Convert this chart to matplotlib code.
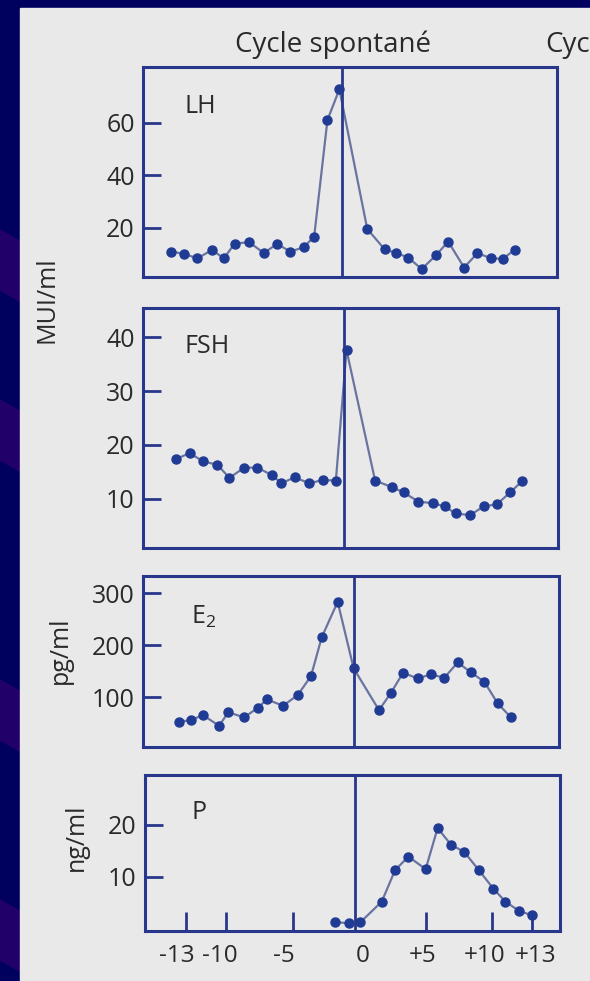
import matplotlib.pyplot as plt
from matplotlib.patches import Rectangle, Polygon

plt.rcParams['font.family'] = ['Open Sans', 'DejaVu Sans']

# valeurs (jours autour du pic de LH)
lh_days = [-14.0, -13.0, -12.0, -10.9, -10.0, -9.2, -8.1, -7.0, -6.0, -5.0, -4.0, -3.2, -2.2, -1.3,
           0.8, 2.1, 3.0, 3.9, 4.9, 6.0, 6.9, 8.1, 9.1, 10.1, 11.0, 11.9]
lh_vals = [11.0, 10.1, 8.4, 11.6, 8.4, 14.0, 14.6, 10.4, 13.9, 11.0, 12.6, 16.7, 61.1, 72.8,
           19.6, 11.9, 10.4, 8.7, 4.3, 9.7, 14.8, 4.9, 10.4, 8.5, 8.2, 11.6]

fsh_days = [-13.6, -12.6, -11.6, -10.5, -9.6, -8.5, -7.5, -6.4, -5.7, -4.7, -3.6, -2.6, -1.6, -0.8,
            1.35, 2.6, 3.5, 4.6, 5.7, 6.6, 7.4, 8.5, 9.5, 10.5, 11.5, 12.4]
fsh_vals = [17.4, 18.5, 17.0, 16.3, 13.9, 15.8, 15.8, 14.4, 12.9, 14.0, 12.9, 13.5, 13.4, 37.6,
            13.4, 12.2, 11.2, 9.5, 9.2, 8.6, 7.3, 7.0, 8.6, 9.0, 11.2, 13.3]

e2_days = [-13.4, -12.5, -11.6, -10.4, -9.7, -8.5, -7.5, -6.8, -5.6, -4.5, -3.5, -2.7, -1.5, -0.3,
           1.6, 2.5, 3.4, 4.5, 5.5, 6.5, 7.5, 8.5, 9.5, 10.5, 11.5]
e2_vals = [52.5, 55.8, 65.4, 44.8, 70.6, 61, 79.4, 95.6, 83.3, 103.8, 140.4, 214.8, 283.3, 155.2,
           75, 108.3, 146.7, 136, 143.7, 137.1, 166.7, 147.5, 129.4, 87.9, 61]

p_days = [-1.8, -0.8, 0.1, 1.7, 2.7, 3.7, 5.0, 5.9, 6.9, 7.9, 9.0, 10.1, 11.0, 12.0, 13.0]
p_vals = [1.3, 1.1, 1.3, 5.25, 11.3, 13.9, 11.5, 19.4, 16.2, 14.8, 11.3, 7.7, 5.25, 3.5, 2.6]

x_marks = [-13, -10, -5, 5, 10, 13]
x_labels = ['-13', '-10', '-5', '0', '+5', '+10', '+13']
# centres des étiquettes, un peu décalés comme sur l'original
x_label_pos = [-13.7, -10.5, -5.7, 0.3, 4.8, 9.4, 13.3]

page = '#e9e9e9'
frame = '#28378c'
dot = '#1f3b94'
line = '#6a74a0'
txt = '#2a2a2a'

W, H = 590, 981
fig = plt.figure(figsize=(W / 100, H / 100), dpi=100)
fig.patch.set_facecolor('#00005e')

# bandes violettes du fond de la diapo
for y0 in [230, 400, 680, 900]:
    fig.patches.append(Polygon([(0, 1 - y0 / H), (0, 1 - (y0 + 60) / H),
                                (0.3, 1 - (y0 + 160) / H), (0.3, 1 - (y0 + 100) / H)],
                               closed=True, transform=fig.transFigure,
                               color='#22006a', zorder=-3))
fig.patches.append(Rectangle((20 / W, 0), 1, 1 - 8 / H, transform=fig.transFigure,
                             color=page, zorder=-2))


def panel(box, days, vals, ylim, yticks, vline, label, lpos):
    l, t, r, b = box
    ax = fig.add_axes([l / W, 1 - b / H, (r - l) / W, (b - t) / H])
    ax.set_facecolor(page)
    ax.plot(days, vals, color=line, lw=1.6, zorder=2)
    ax.plot(days, vals, 'o', color=dot, ms=6.5, zorder=3)
    ax.axvline(vline, color=frame, lw=2, zorder=4)
    ax.set_xlim(-16.1, 15.1)
    ax.set_ylim(*ylim)
    ax.set_yticks(yticks)
    ax.tick_params(axis='y', direction='in', length=13, width=2, color=frame,
                   labelsize=18, labelcolor=txt, pad=6)
    for s in ax.spines.values():
        s.set_color(frame)
        s.set_linewidth(2.2)
    ax.text(lpos[0], lpos[1], label, transform=ax.transAxes, fontsize=18,
            color=txt, ha='left', va='center')
    return ax


ax1 = panel((143, 67, 557, 277), lh_days, lh_vals, (1.3, 81.3), [20, 40, 60], -1.1, 'LH', (0.10, 0.81))
ax2 = panel((143, 308, 558, 548), fsh_days, fsh_vals, (0.9, 45.4), [10, 20, 30, 40], -1.0, 'FSH', (0.10, 0.84))
ax3 = panel((143, 576, 559, 747), e2_days, e2_vals, (4, 333), [100, 200, 300], -0.3,
            r'E$_\mathregular{2}$', (0.115, 0.76))
ax4 = panel((145, 775, 560, 931), p_days, p_vals, (-0.4, 29.6), [10, 20], -0.3, 'P', (0.113, 0.76))

for ax in [ax1, ax2, ax3]:
    ax.set_xticks([])

# graduations (mineures) et étiquettes (majeures, sans trait)
ax4.set_xticks(x_label_pos)
ax4.set_xticklabels(x_labels)
ax4.set_xticks(x_marks, minor=True)
ax4.tick_params(axis='x', which='major', length=0, labelsize=17.5, labelcolor=txt, pad=9)
ax4.tick_params(axis='x', which='minor', direction='in', length=14, width=2, color=frame)

fig.text(333 / W, 1 - 45 / H, 'Cycle spontané', fontsize=20, color=txt, ha='center', va='center')
fig.text(545 / W, 1 - 45 / H, 'Cyc', fontsize=20, color=txt, ha='left', va='center')
fig.text(47 / W, 1 - 300 / H, 'MUI/ml', fontsize=18, color=txt, rotation=90, ha='center', va='center')
fig.text(60 / W, 1 - 650 / H, 'pg/ml', fontsize=18, color=txt, rotation=90, ha='center', va='center')
fig.text(76 / W, 1 - 837 / H, 'ng/ml', fontsize=18, color=txt, rotation=90, ha='center', va='center')

fig.savefig('out.png', dpi=100, facecolor=fig.get_facecolor())
